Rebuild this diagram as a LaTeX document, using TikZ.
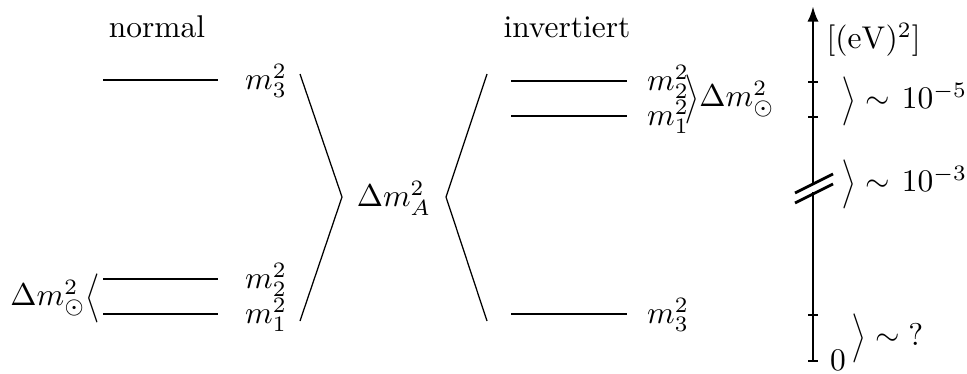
\documentclass[tikz,border=0pt]{standalone}
\usepackage{amsmath}
\usepackage{graphicx}
\usetikzlibrary{arrows.meta}

% tall angle brackets (cmex, stretched)
\newcommand{\lbrk}{\mathopen{\vcenter{\hbox{\scalebox{1}[1.3]{$\mathchar"030A$}}}}}
\newcommand{\rbrk}{\mathclose{\vcenter{\hbox{\scalebox{1}[1.3]{$\mathchar"030B$}}}}}

\begin{document}
\begin{tikzpicture}[x=0.318pt, y=-0.318pt,
          level/.style={line width=0.9pt},
          axis/.style={line width=0.9pt},
          wedge/.style={line width=0.4pt},
          lbl/.style={inner sep=0pt}
        ]
        \useasboundingbox (0,0) rectangle (967,373);

        % normal ordering (left)
        \node[lbl] (normal) at (157,27) {normal};
        \foreach \y/\i in {80/3, 279/2, 314/1} {
          \draw[level] (103,\y) -- (218,\y);
          \node[lbl] (n\i) at (266,\y+1) {$m_\i^2$};
        }
        \node[lbl, anchor=east] (nsol) at (101,298) {$\Delta m^2_\odot\lbrk$};

        % atmospheric splitting (middle)
        \coordinate (wl1) at (300,74);
        \coordinate (wl2) at (342,197);
        \coordinate (wl3) at (300,321);
        \coordinate (wr1) at (487,74);
        \coordinate (wr2) at (446,197);
        \coordinate (wr3) at (487,321);
        \draw[wedge] (wl1) -- (wl2) -- (wl3);
        \draw[wedge] (wr1) -- (wr2) -- (wr3);
        \node[lbl] (atm) at (394,198) {$\Delta m^2_A$};

        % inverted ordering (right)
        \node[lbl] (invert) at (567,27) {invertiert};
        \foreach \y/\i in {81/2, 116/1, 314/3} {
          \draw[level] (511,\y) -- (627,\y);
          \node[lbl] (i\i) at (668,\y+1) {$m_\i^2$};
        }
        \node[lbl, anchor=west] (isol) at (684,99) {$\rbrk\Delta m^2_\odot$};

        % mass scale
        \draw[axis, -{Latex[length=5pt, width=3.6pt]}] (813,184) -- (813,6);
        \draw[axis] (813,361) -- (813,192);
        \foreach \y in {82, 117, 315, 361}
          \draw[axis] (808,\y) -- (818,\y);
        \draw[axis] (795,193) -- (833,174);
        \draw[axis] (795,203) -- (833,184);
        \node[lbl, anchor=west] (unit) at (826,40) {$[(\mathrm{eV})^2]$};
        \node[lbl, anchor=west] (s5) at (841,101) {$\rbrk\sim\mkern2mu 10^{-5}$};
        \node[lbl, anchor=west] (s3) at (841,184) {$\rbrk\sim\mkern2mu 10^{-3}$};
        \node[lbl] (zero) at (838,360) {$0$};
        \node[lbl, anchor=west] (s0) at (851,338) {$\rbrk\sim\;?$};
      \end{tikzpicture}
\end{document}
